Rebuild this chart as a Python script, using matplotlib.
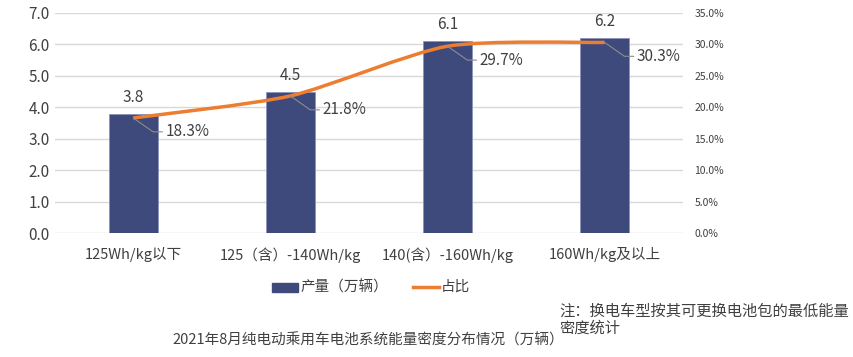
import matplotlib.pyplot as plt
from matplotlib.path import Path
from matplotlib.patches import PathPatch

plt.rcParams['font.family'] = ['Noto Sans CJK SC', 'DejaVu Sans']

categories = ["125Wh/kg以下", "125（含）-140Wh/kg", "140(含）-160Wh/kg", "160Wh/kg及以上"]
output = [3.8, 4.5, 6.1, 6.2]
share = [18.3, 21.8, 29.7, 30.3]
left_ticks = [0, 1, 2, 3, 4, 5, 6, 7]
right_ticks = [0, 5, 10, 15, 20, 25, 30, 35]

bar_color = "#3F4A7C"
line_color = "#ED7D31"
text_color = "#404040"

fig = plt.figure(figsize=(8.54, 3.57), dpi=100)
ax = fig.add_axes([0.064, 0.347, 0.736, 0.617])
ax2 = ax.twinx()

x = list(range(len(categories)))
ax.bar(x, output, width=0.31, color=bar_color, edgecolor="#8C93B8", linewidth=0.6, zorder=2)
ax.set_xlim(-0.5, len(categories) - 0.5)
ax.set_ylim(0, 7)
ax.set_yticks(left_ticks)
ax.set_yticklabels([f"{v:.1f}" for v in left_ticks], fontsize=11, color=text_color)
ax.set_xticks(x)
ax.set_xticklabels(categories, fontsize=10.5, color=text_color)
ax.tick_params(axis="both", length=0)
ax.tick_params(axis="x", pad=10)
ax.grid(axis="y", color="#D9D9D9", linewidth=1, zorder=0)
ax.set_axisbelow(True)
for s in ax.spines.values():
    s.set_visible(False)
for s in ax2.spines.values():
    s.set_visible(False)

for xi, v in zip(x, output):
    ax.text(xi, v + 0.25, f"{v:.1f}", ha="center", va="bottom", fontsize=11, color=text_color)

ax2.set_ylim(0, 35)
ax2.set_yticks(right_ticks)
ax2.set_yticklabels([f"{v:.1f}%" for v in right_ticks], fontsize=7.5, color=text_color)
ax2.tick_params(axis="y", length=0, pad=8)

# smooth line (Catmull-Rom as cubic Bezier, softened tension)
t = 0.12
verts = [(x[0], share[0])]
codes = [Path.MOVETO]
n = len(x)
for i in range(n - 1):
    p0 = (x[max(i - 1, 0)], share[max(i - 1, 0)])
    p1 = (x[i], share[i])
    p2 = (x[i + 1], share[i + 1])
    p3 = (x[min(i + 2, n - 1)], share[min(i + 2, n - 1)])
    c1 = (p1[0] + (p2[0] - p0[0]) * t, p1[1] + (p2[1] - p0[1]) * t)
    c2 = (p2[0] - (p3[0] - p1[0]) * t, p2[1] - (p3[1] - p1[1]) * t)
    verts += [c1, c2, p2]
    codes += [Path.CURVE4] * 3
ax2.add_patch(PathPatch(Path(verts, codes), facecolor="none", edgecolor=line_color,
                        linewidth=2.5, zorder=3))

for xi, v in zip(x, share):
    ax2.annotate(f"{v:.1f}%", xy=(xi, v), xytext=(23, -10), textcoords="offset points",
                 ha="left", va="center", fontsize=11, color=text_color,
                 arrowprops=dict(arrowstyle="-", color="#8C8C8C", linewidth=0.8,
                                 connectionstyle="angle,angleA=0,angleB=-35,rad=0",
                                 shrinkA=0, shrinkB=0))

# legend
fig.patches.append(plt.Rectangle((272 / 854, 1 - 292 / 357), 26 / 854, 9 / 357,
                                 color=bar_color, transform=fig.transFigure))
fig.text(300 / 854, 1 - 287 / 357, "产量（万辆）", fontsize=10.5, color=text_color, va="center")
fig.add_artist(plt.Line2D([413 / 854, 439 / 854], [1 - 287 / 357] * 2, color=line_color,
                          linewidth=2.5, transform=fig.transFigure))
fig.text(441 / 854, 1 - 287 / 357, "占比", fontsize=10.5, color=text_color, va="center")

fig.text(559 / 854, 1 - 311 / 357, "注：换电车型按其可更换电池包的最低能量", fontsize=11,
         color=text_color, va="center")
fig.text(559 / 854, 1 - 328 / 357, "密度统计", fontsize=11, color=text_color, va="center")
fig.text(368 / 854, 1 - 340 / 357, "2021年8月纯电动乘用车电池系统能量密度分布情况（万辆）",
         fontsize=10.5, color=text_color, ha="center", va="center")

fig.savefig("out.png", dpi=100)
